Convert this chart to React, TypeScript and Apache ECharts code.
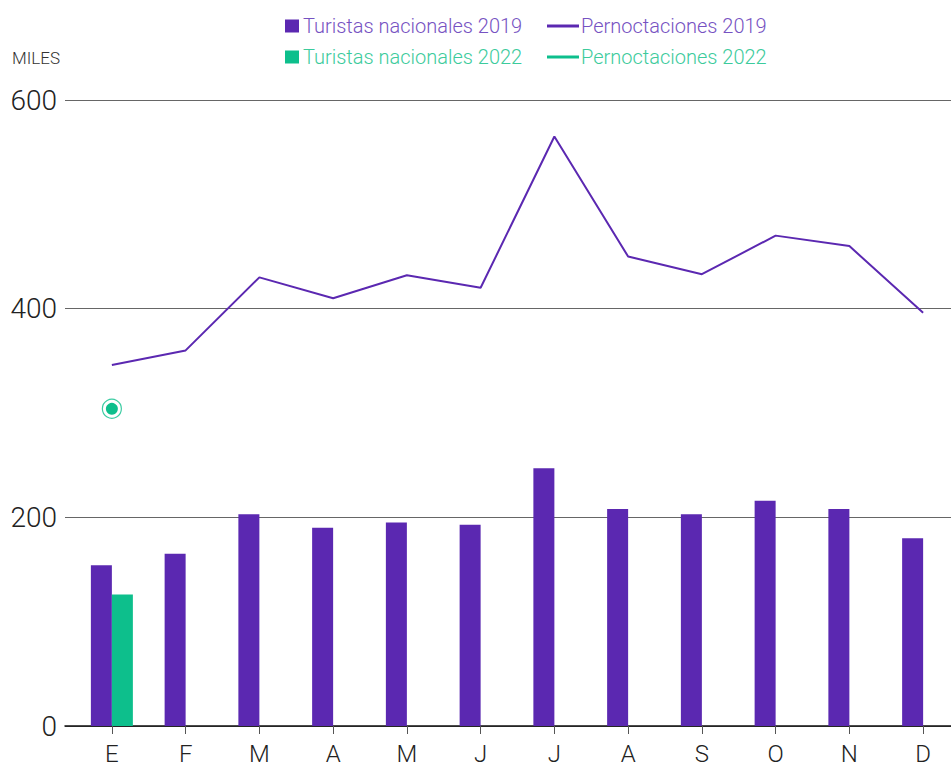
import React, { useEffect, useRef } from "react";
import * as echarts from "echarts";

const months = ["E", "F", "M", "A", "M", "J", "J", "A", "S", "O", "N", "D"];
const turistas2019 = [154, 165, 203, 190, 195, 193, 247, 208, 203, 216, 208, 180];
const turistas2022: (number | null)[] = [126, null, null, null, null, null, null, null, null, null, null, null];
const pernoct2019 = [346, 360, 430, 410, 432, 420, 565, 450, 433, 470, 460, 396];
const pernoct2022: (number | null)[] = [304, null, null, null, null, null, null, null, null, null, null, null];
const yTicks = { min: 0, max: 600, interval: 200 };

const PURPLE = "#5b28b1";
const GREEN = "#0dbf8c";
const PURPLE_TXT = "#7652c2";
const GREEN_TXT = "#3ccb9c";
const FONT = "Roboto";

export default function App() {
  const ref = useRef<HTMLDivElement>(null);
  useEffect(() => {
    if (!ref.current) return;
    const chart = echarts.init(ref.current, null, { renderer: "svg" });
    const option: any = {
      animation: false,
      textStyle: { fontFamily: FONT, fontWeight: 300 },
      graphic: [
        {
          type: "text",
          left: 12,
          top: 49,
          style: { text: "MILES", fontFamily: FONT, fontWeight: 300, fontSize: 17, fill: "#333" },
        },
      ],
      legend: [
        {
          orient: "vertical",
          left: 280,
          top: 11,
          itemGap: 11,
          itemWidth: 14,
          itemHeight: 13,
          icon: "rect",
          textStyle: { fontSize: 20, fontFamily: FONT, fontWeight: 300, padding: [0, 0, 0, -1] },
          data: [
            { name: "Turistas nacionales 2019", textStyle: { color: PURPLE_TXT } },
            { name: "Turistas nacionales 2022", textStyle: { color: GREEN_TXT } },
          ],
        },
        {
          orient: "vertical",
          left: 542,
          top: 11,
          itemGap: 11,
          itemWidth: 32,
          itemHeight: 3,
          icon: "rect",
          textStyle: { fontSize: 20, fontFamily: FONT, fontWeight: 300, padding: [0, 0, 0, -3] },
          data: [
            { name: "Pernoctaciones 2019", textStyle: { color: PURPLE_TXT } },
            { name: "Pernoctaciones 2022", textStyle: { color: GREEN_TXT } },
          ],
        },
      ],
      grid: [
        { left: 65, right: 0, top: 100, bottom: 42, outerBoundsMode: "none" },
        { left: 75, width: 885, top: 100, bottom: 42, outerBoundsMode: "none" },
      ],
      xAxis: [
        {
          gridIndex: 0,
          type: "category",
          data: months,
          axisLine: { show: true, lineStyle: { color: "#111", width: 1.5 } },
          axisTick: { show: false },
          axisLabel: { show: false },
          splitLine: { show: false },
        },
        {
          gridIndex: 1,
          type: "category",
          data: months,
          axisLine: { show: false },
          axisTick: { show: true, alignWithLabel: true, length: 8, lineStyle: { color: "#555" } },
          axisLabel: {
            fontSize: 24,
            lineHeight: 24,
            fontFamily: FONT,
            fontWeight: 300,
            color: "#222",
            margin: 16,
          },
          splitLine: { show: false },
        },
      ],
      yAxis: [
        {
          gridIndex: 0,
          type: "value",
          min: yTicks.min,
          max: yTicks.max,
          interval: yTicks.interval,
          axisLine: { show: false },
          axisTick: { show: false },
          axisLabel: { fontSize: 28, fontFamily: FONT, fontWeight: 300, color: "#222", margin: 8 },
          splitLine: { show: true, lineStyle: { color: "#666", width: 1 } },
        },
        {
          gridIndex: 1,
          type: "value",
          min: yTicks.min,
          max: yTicks.max,
          interval: yTicks.interval,
          show: false,
          splitLine: { show: false },
        },
      ],
      series: [
        {
          name: "Turistas nacionales 2019",
          type: "bar",
          xAxisIndex: 1,
          yAxisIndex: 1,
          data: turistas2019,
          barWidth: 21,
          barGap: "0%",
          itemStyle: { color: PURPLE },
        },
        {
          name: "Turistas nacionales 2022",
          type: "bar",
          xAxisIndex: 1,
          yAxisIndex: 1,
          data: turistas2022,
          barWidth: 21,
          barGap: "0%",
          itemStyle: { color: GREEN },
        },
        {
          name: "Pernoctaciones 2019",
          type: "line",
          xAxisIndex: 1,
          yAxisIndex: 1,
          data: pernoct2019,
          showSymbol: false,
          symbol: "none",
          lineStyle: { color: PURPLE, width: 2 },
          itemStyle: { color: PURPLE },
        },
        {
          name: "Pernoctaciones 2022",
          type: "line",
          xAxisIndex: 1,
          yAxisIndex: 1,
          data: pernoct2022,
          showSymbol: true,
          symbol: "circle",
          symbolSize: 12,
          lineStyle: { color: GREEN, width: 2 },
          itemStyle: { color: GREEN },
        },
        {
          name: "ring",
          type: "scatter",
          xAxisIndex: 1,
          yAxisIndex: 1,
          data: pernoct2022,
          symbol: "circle",
          symbolSize: 19,
          itemStyle: { color: "rgba(0,0,0,0)", borderColor: GREEN, borderWidth: 1.2 },
          silent: true,
        },
      ],
    };
    chart.setOption(option);
    return () => chart.dispose();
  }, []);
  return <div ref={ref} style={{ width: 951, height: 768, position: "absolute", left: 0, top: 0 }} />;
}
